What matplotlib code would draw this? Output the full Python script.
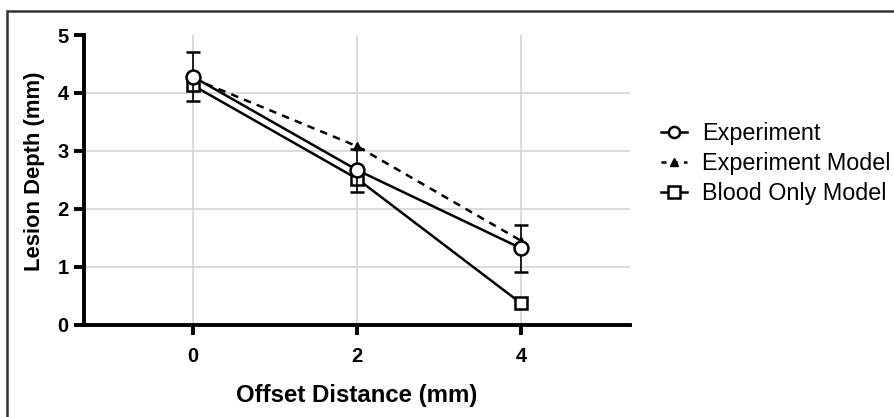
import matplotlib
matplotlib.use('Agg')
import matplotlib.pyplot as plt
from matplotlib.patches import Rectangle
from matplotlib.lines import Line2D

# data
offset = [0, 2, 4]
experiment = [4.28, 2.67, 1.32]
experiment_err = [0.42, 0.37, 0.40]
experiment_model = [4.25, 3.08, 1.45]
blood_only_model = [4.13, 2.52, 0.37]

plt.rcParams['font.family'] = ['Liberation Sans', 'DejaVu Sans']

fig = plt.figure(figsize=(8.94, 4.17), dpi=100)
ax = fig.add_axes([0.094, 0.221, 0.611, 0.695])

# outer frame (only top/left visible in the crop)
fig.patches.append(Rectangle((7 / 894, -0.5), 2.0, 1.5 - 11 / 417,
                             transform=fig.transFigure, fill=False,
                             edgecolor='#333333', linewidth=1.8, zorder=0))

# grid
for x in offset:
    ax.plot([x, x], [0, 5], color='#d4d4d4', lw=1.2, zorder=0)
for y in [1, 2, 3, 4]:
    ax.axhline(y, color='#d4d4d4', lw=1.2, zorder=0)

ax.errorbar(offset, experiment, yerr=experiment_err, color='black', lw=1.8,
            marker='o', ms=10, mfc='white', mec='black', mew=1.8,
            capsize=5, elinewidth=1.2, capthick=1.2, zorder=5)
ax.plot(offset, experiment_model, color='black', lw=1.8, ls=(0, (3, 2.5)),
        marker='^', ms=6, mfc='black', mec='black', zorder=4)
ax.plot(offset, blood_only_model, color='black', lw=1.8,
        marker='s', ms=9, mfc='white', mec='black', mew=1.8, zorder=3)

ax.set_xlim(-1.33, 5.33)
ax.set_ylim(0, 5)
ax.set_xticks(offset)
ax.set_yticks([0, 1, 2, 3, 4, 5])

for s in ['top', 'right']:
    ax.spines[s].set_visible(False)
for s in ['left', 'bottom']:
    ax.spines[s].set_linewidth(2.8)
ax.tick_params(direction='out', length=7, width=2.8, labelsize=14.5, pad=4)
for lab in ax.get_xticklabels() + ax.get_yticklabels():
    lab.set_fontweight('bold')
ax.tick_params(axis='x', pad=9)

ax.set_xlabel('Offset Distance (mm)', fontsize=17.3, fontweight='bold', labelpad=13)
ax.set_ylabel('Lesion Depth (mm)', fontsize=15.8, fontweight='bold')
ax.yaxis.set_label_coords(-0.071, 0.53)

# legend handles without the error bars
handles = [
    Line2D([], [], color='black', lw=1.8, marker='o', ms=8, mfc='white', mew=1.8),
    Line2D([], [], color='black', lw=1.8, ls=(0, (2, 2.5)), marker='^', ms=6, mfc='black'),
    Line2D([], [], color='black', lw=1.8, marker='s', ms=8, mfc='white', mew=1.8),
]
labels = ['Experiment', 'Experiment Model', 'Blood Only Model']
ax.legend(handles, labels, loc='center left', bbox_to_anchor=(1.018, 0.555),
          frameon=False, fontsize=16.8, handlelength=1.1, handletextpad=0.65,
          labelspacing=0.3)

fig.savefig('out.png', dpi=100)
